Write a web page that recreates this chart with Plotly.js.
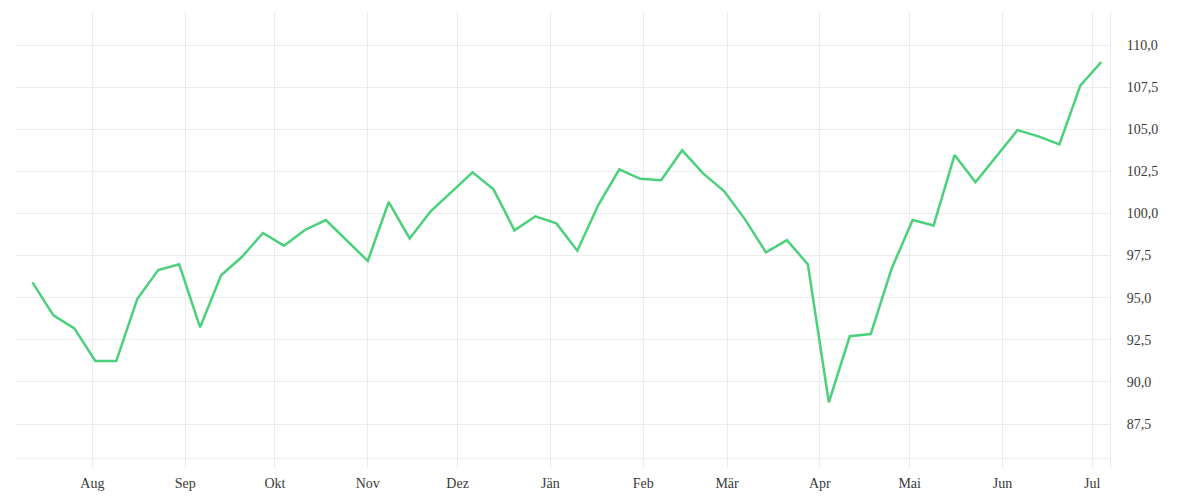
<!DOCTYPE html>
<html>
<head>
<meta charset="utf-8">
<script src="https://cdn.plot.ly/plotly-3.0.1.min.js"></script>
<style>
  html, body { margin: 0; padding: 0; background: #fff; }
  #chart { width: 1200px; height: 500px; }
</style>
</head>
<body>
<div id="chart"></div>
<script>
// weekly closing values
var weeks = [
    '2022-07-12', '2022-07-19', '2022-07-26', '2022-08-02', '2022-08-09', '2022-08-16',
    '2022-08-23', '2022-08-30', '2022-09-06', '2022-09-13', '2022-09-20', '2022-09-27',
    '2022-10-04', '2022-10-11', '2022-10-18', '2022-10-25', '2022-11-01', '2022-11-08',
    '2022-11-15', '2022-11-22', '2022-11-29', '2022-12-06', '2022-12-13', '2022-12-20',
    '2022-12-27', '2023-01-03', '2023-01-10', '2023-01-17', '2023-01-24', '2023-01-31',
    '2023-02-07', '2023-02-14', '2023-02-21', '2023-02-28', '2023-03-07', '2023-03-14',
    '2023-03-21', '2023-03-28', '2023-04-04', '2023-04-11', '2023-04-18', '2023-04-25',
    '2023-05-02', '2023-05-09', '2023-05-16', '2023-05-23', '2023-05-30', '2023-06-06',
    '2023-06-13', '2023-06-20', '2023-06-27', '2023-07-04'
];

var values = [
    95.91, 93.95, 93.18, 91.24, 91.24, 94.92,
    96.64, 96.98, 93.24, 96.33, 97.43, 98.84,
    98.09, 99.02, 99.61, 98.40, 97.18, 100.68,
    98.52, 100.13, 101.29, 102.44, 101.43, 99.00,
    99.83, 99.41, 97.79, 100.50, 102.62, 102.06,
    101.97, 103.75, 102.38, 101.33, 99.65, 97.69,
    98.42, 96.98, 88.79, 92.71, 92.84, 96.74,
    99.61, 99.29, 103.47, 101.85, 103.40, 104.95,
    104.58, 104.10, 107.59, 108.99
];

var monthTicks = [
    '2022-08-01', '2022-09-01', '2022-10-01', '2022-11-01', '2022-12-01', '2023-01-01',
    '2023-02-01', '2023-03-01', '2023-04-01', '2023-05-01', '2023-06-01', '2023-07-01'
];
var monthLabels = ['Aug', 'Sep', 'Okt', 'Nov', 'Dez', 'Jän', 'Feb', 'Mär', 'Apr', 'Mai', 'Jun', 'Jul'];

var valueTicks = [87.5, 90, 92.5, 95, 97.5, 100, 102.5, 105, 107.5, 110];

var gridColor = '#ececec';
var labelFont = {family: '"Liberation Serif", serif', size: 14, color: '#3a3a3a'};

var trace = {
    x: weeks,
    y: values,
    type: 'scatter',
    mode: 'lines',
    line: {color: '#4bd07b', width: 2.5},
    hoverinfo: 'x+y'
};

var layout = {
    width: 1200,
    height: 500,
    margin: {l: 15, r: 90, t: 12, b: 32},
    paper_bgcolor: '#fff',
    plot_bgcolor: '#fff',
    separators: ',.',
    showlegend: false,
    font: labelFont,
    xaxis: {
        type: 'date',
        range: ['2022-07-06 04:00', '2023-07-06 22:00'],
        tickvals: monthTicks,
        ticktext: monthLabels,
        showgrid: true,
        gridcolor: gridColor,
        gridwidth: 1,
        zeroline: false,
        showline: false,
        ticks: '',
        ticklabelstandoff: 5,
        tickfont: labelFont
    },
    yaxis: {
        side: 'right',
        range: [84.89, 111.96],
        tickvals: valueTicks,
        tickformat: '.1f',
        showgrid: true,
        gridcolor: gridColor,
        gridwidth: 1,
        zeroline: false,
        showline: true,
        linecolor: gridColor,
        linewidth: 1,
        ticks: '',
        ticklabelstandoff: 13,
        tickfont: labelFont
    },
    shapes: [{
        type: 'line',
        xref: 'paper', yref: 'paper',
        x0: 0, x1: 1, y0: 0.0204, y1: 0.0204,
        line: {color: gridColor, width: 1},
        layer: 'below'
    }]
};

Plotly.newPlot('chart', [trace], layout, {displayModeBar: false, staticPlot: true});
</script>
</body>
</html>
